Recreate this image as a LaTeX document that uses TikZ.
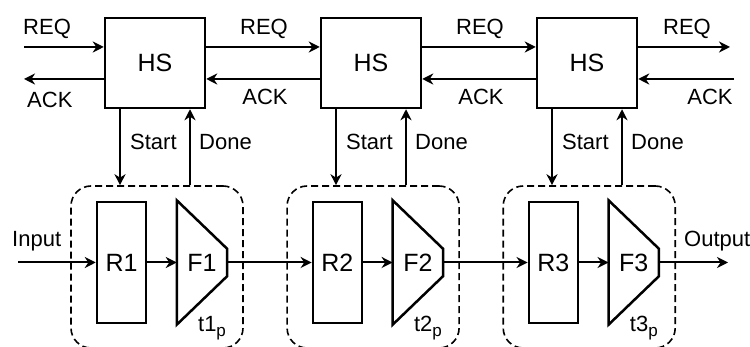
\documentclass[tikz,border=0pt]{standalone}
\usepackage{fontspec}
\setmainfont{Liberation Sans}
\usetikzlibrary{arrows.meta,positioning,calc}

\newcommand{\subp}{\raisebox{-4.5pt}{\fontsize{17}{19}\selectfont p}}

\tikzset{
  hs/.style={rectangle, draw, line width=2.5pt, minimum width=100pt, minimum height=90pt, font=\fontsize{25}{28}\selectfont},
  reg/.style={rectangle, draw, line width=2.5pt, minimum width=49pt, minimum height=121pt, font=\fontsize{25}{28}\selectfont},
  fu/.style={rectangle, inner sep=0pt, minimum width=50pt, minimum height=124pt, font=\fontsize{25}{28}\selectfont},
  fushape/.style={draw, line width=2.5pt, line join=miter},
  stage/.style={rectangle, draw, dashed, dash pattern=on 7pt off 4pt, line width=1.6pt, rounded corners=20pt, minimum width=172pt, minimum height=162pt},
  sig/.style={-{Stealth[length=11pt, width=11pt, inset=3.5pt]}, line width=2pt},
  lbl/.style={inner sep=0pt, font=\fontsize{22}{25}\selectfont}
}

\begin{document}
\begin{tikzpicture}[x=1pt, y=1pt]
    \path[use as bounding box, fill=white] (0,0) rectangle (750,347);

    % handshake controllers
    \node[hs] (hs1) at (155,284) {HS};
    \node[hs, right=113.5pt of hs1] (hs2) {HS};
    \node[hs, right=113.5pt of hs2] (hs3) {HS};

    % pipeline stages
    \node[stage] (st1) at (157,80) {};
    \node[stage, right=42.5pt of st1] (st2) {};
    \node[stage, right=42.5pt of st2] (st3) {};

    \node[reg] (r1) at (121.5,84.5) {R1};
    \node[fu, right=29.5pt of r1] (f1) {F1};
    \node[reg, right=84.5pt of f1] (r2) {R2};
    \node[fu, right=29.5pt of r2] (f2) {F2};
    \node[reg, right=84.5pt of f2] (r3) {R3};
    \node[fu, right=29.5pt of r3] (f3) {F3};

    \draw[fushape] (f1.north west) -- ([yshift=-48.5pt]f1.north east) -- ([yshift=48.5pt]f1.south east) -- (f1.south west) -- cycle;
    \draw[fushape] (f2.north west) -- ([yshift=-48.5pt]f2.north east) -- ([yshift=48.5pt]f2.south east) -- (f2.south west) -- cycle;
    \draw[fushape] (f3.north west) -- ([yshift=-48.5pt]f3.north east) -- ([yshift=48.5pt]f3.south east) -- (f3.south west) -- cycle;

    \node[lbl, anchor=base west] (tp1) at ($(f1.south)+(-4,-7)$) {t1\subp};
    \node[lbl, anchor=base west] (tp2) at ($(f2.south)+(-4,-7)$) {t2\subp};
    \node[lbl, anchor=base west] (tp3) at ($(f3.south)+(-4,-7)$) {t3\subp};

    % REQ / ACK
    \coordinate (reqin) at (24,300);
    \coordinate (ackout) at (24,268);
    \coordinate (reqout) at (730,300);
    \coordinate (ackin) at (734,268);

    \draw[sig] (reqin) -- (reqin -| hs1.west);
    \draw[sig] (ackout -| hs1.west) -- (ackout);
    \draw[sig] ([yshift=16pt]hs1.east) -- ([yshift=16pt]hs2.west);
    \draw[sig] ([yshift=-16pt]hs2.west) -- ([yshift=-16pt]hs1.east);
    \draw[sig] ([yshift=16pt]hs2.east) -- ([yshift=16pt]hs3.west);
    \draw[sig] ([yshift=-16pt]hs3.west) -- ([yshift=-16pt]hs2.east);
    \draw[sig] (reqout -| hs3.east) -- (reqout);
    \draw[sig] (ackin) -- (ackin -| hs3.east);

    \node[lbl, anchor=base west] (req0) at (23,312) {REQ};
    \node[lbl, anchor=base west] (ack0) at (27,239) {ACK};
    \node[lbl, anchor=base] (req1) at ($(hs1.east)!.5!(hs2.west)+(1,28)$) {REQ};
    \node[lbl, anchor=base] (ack1) at ($(hs1.east)!.5!(hs2.west)+(2,-42)$) {ACK};
    \node[lbl, anchor=base] (req2) at ($(hs2.east)!.5!(hs3.west)+(1,28)$) {REQ};
    \node[lbl, anchor=base] (ack2) at ($(hs2.east)!.5!(hs3.west)+(2,-42)$) {ACK};
    \node[lbl, anchor=base] (req3) at (687,312) {REQ};
    \node[lbl, anchor=base] (ack3) at (710,242) {ACK};

    % Start / Done
    \draw[sig] ([xshift=-35pt]hs1.south) -- ([xshift=-35pt]hs1.south |- st1.north);
    \draw[sig] ([xshift=35pt]hs1.south |- st1.north) -- ([xshift=35pt]hs1.south);
    \draw[sig] ([xshift=-35pt]hs2.south) -- ([xshift=-35pt]hs2.south |- st2.north);
    \draw[sig] ([xshift=35pt]hs2.south |- st2.north) -- ([xshift=35pt]hs2.south);
    \draw[sig] ([xshift=-35pt]hs3.south) -- ([xshift=-35pt]hs3.south |- st3.north);
    \draw[sig] ([xshift=35pt]hs3.south |- st3.north) -- ([xshift=35pt]hs3.south);

    \node[lbl, anchor=base west] (start1) at ($(hs1.south)+(-25,-40)$) {Start};
    \node[lbl, anchor=base west] (done1) at ($(hs1.south)+(44,-40)$) {Done};
    \node[lbl, anchor=base west] (start2) at ($(hs2.south)+(-25,-40)$) {Start};
    \node[lbl, anchor=base west] (done2) at ($(hs2.south)+(44,-40)$) {Done};
    \node[lbl, anchor=base west] (start3) at ($(hs3.south)+(-25,-40)$) {Start};
    \node[lbl, anchor=base west] (done3) at ($(hs3.south)+(44,-40)$) {Done};

    % data path
    \coordinate (datain) at (18,84.5);
    \coordinate (dataout) at (728,84.5);
    \draw[sig] (datain) -- (r1);
    \draw[sig] (r1) -- (f1);
    \draw[sig] (f1) -- (r2);
    \draw[sig] (r2) -- (f2);
    \draw[sig] (f2) -- (r3);
    \draw[sig] (r3) -- (f3);
    \draw[sig] (f3) -- (dataout);

    \node[lbl, anchor=base west] (input) at (12,100) {Input};
    \node[lbl, anchor=base west] (output) at (684,100) {Output};
  \end{tikzpicture}
\end{document}
